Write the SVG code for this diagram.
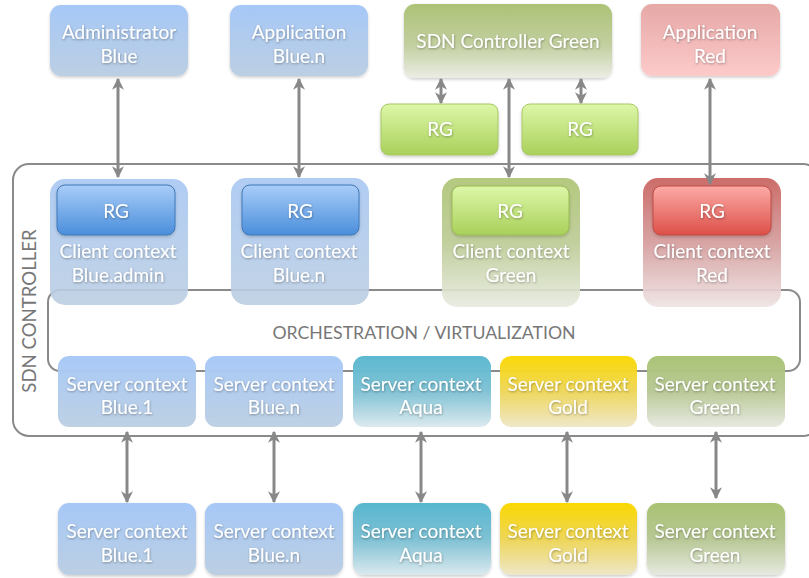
<svg xmlns="http://www.w3.org/2000/svg" width="809" height="578" viewBox="0 0 809 578">
<defs>
<linearGradient id="gBlue" x1="0" y1="0" x2="0" y2="1"><stop offset="0" stop-color="#a6c8f7"/><stop offset="1" stop-color="#bccfe3"/></linearGradient>
<linearGradient id="gBlueOuter" x1="0" y1="0" x2="0" y2="1"><stop offset="0" stop-color="#a7c7f3"/><stop offset="1" stop-color="#bccee2"/></linearGradient>
<linearGradient id="gBlueRG" x1="0" y1="0" x2="0" y2="1"><stop offset="0" stop-color="#a9cdf9"/><stop offset="1" stop-color="#4a8edb"/></linearGradient>
<linearGradient id="gGreenCtl" x1="0" y1="0" x2="0" y2="1"><stop offset="0" stop-color="#adc276"/><stop offset="0.55" stop-color="#c2cf9f"/><stop offset="1" stop-color="#ebede4"/></linearGradient>
<linearGradient id="gGreenRG" x1="0" y1="0" x2="0" y2="1"><stop offset="0" stop-color="#ddf7a8"/><stop offset="1" stop-color="#a9d05a"/></linearGradient>
<linearGradient id="gGreenOuter" x1="0" y1="0" x2="0" y2="1"><stop offset="0" stop-color="#aec474"/><stop offset="0.5" stop-color="#bccb95"/><stop offset="1" stop-color="#e8ebe1"/></linearGradient>
<linearGradient id="gRedApp" x1="0" y1="0" x2="0" y2="1"><stop offset="0" stop-color="#e5a8a6"/><stop offset="1" stop-color="#fdcaca"/></linearGradient>
<linearGradient id="gRedOuter" x1="0" y1="0" x2="0" y2="1"><stop offset="0" stop-color="#c8605c"/><stop offset="0.5" stop-color="#d49c9c"/><stop offset="1" stop-color="#efe3e3"/></linearGradient>
<linearGradient id="gRedRG" x1="0" y1="0" x2="0" y2="1"><stop offset="0" stop-color="#fcaaa6"/><stop offset="1" stop-color="#dd5048"/></linearGradient>
<linearGradient id="gAqua" x1="0" y1="0" x2="0" y2="1"><stop offset="0" stop-color="#57b7cf"/><stop offset="0.5" stop-color="#7ec1d4"/><stop offset="1" stop-color="#dbe9ee"/></linearGradient>
<linearGradient id="gGold" x1="0" y1="0" x2="0" y2="1"><stop offset="0" stop-color="#fad800"/><stop offset="0.5" stop-color="#eed659"/><stop offset="1" stop-color="#eee7c8"/></linearGradient>
<linearGradient id="gGreenSrv" x1="0" y1="0" x2="0" y2="1"><stop offset="0" stop-color="#a8c272"/><stop offset="0.5" stop-color="#b8c895"/><stop offset="1" stop-color="#e6e9e0"/></linearGradient>
<filter id="ts" x="-10%" y="-30%" width="120%" height="160%"><feDropShadow dx="0.5" dy="1" stdDeviation="0.8" flood-color="#000" flood-opacity="0.35"/></filter>
<filter id="bs" x="-10%" y="-10%" width="120%" height="130%"><feDropShadow dx="0" dy="1.5" stdDeviation="1.5" flood-color="#000" flood-opacity="0.2"/></filter>
<marker id="ah" viewBox="0 0 10 10" refX="9" refY="5" markerWidth="4" markerHeight="4" orient="auto-start-reverse"><path d="M0,0 L10,5 L0,10 L3,5 z" fill="#888"/></marker>
<style>
text{font-family:Lato,"Open Sans","Liberation Sans",sans-serif;text-anchor:middle;}
.w{fill:#fff;font-size:19px;filter:url(#ts);}
.g{fill:#777;font-size:17.7px;}
.frame{fill:none;stroke:#8a8a8a;stroke-width:2;}
.con{stroke:#888;stroke-width:3;fill:none;marker-start:url(#ah);marker-end:url(#ah);}
</style>
</defs>
<rect width="809" height="578" fill="#fff"/>

<g id="sdn-controller">
<rect class="frame" x="13" y="164" width="806" height="272" rx="16"/>
<text class="g" style="font-size:18.6px" transform="translate(36,311) rotate(-90)">SDN CONTROLLER</text>
</g>
<g id="orchestration">
<rect class="frame" x="48" y="290" width="752" height="81" rx="12"/>
<text class="g" x="424" y="339">ORCHESTRATION / VIRTUALIZATION</text>
</g>

<g id="admin-blue"><rect x="50" y="5" width="138" height="71" rx="11" fill="url(#gBlue)" filter="url(#bs)"/><text class="w" x="119" y="39">Administrator</text><text class="w" x="119" y="63">Blue</text></g>
<g id="app-blue"><rect x="230" y="5" width="138" height="71" rx="11" fill="url(#gBlue)" filter="url(#bs)"/><text class="w" x="299" y="39">Application</text><text class="w" x="299" y="63">Blue.n</text></g>
<g id="sdn-green"><rect x="404" y="4" width="208" height="74" rx="11" fill="url(#gGreenCtl)" filter="url(#bs)"/><text class="w" x="508" y="48">SDN Controller Green</text></g>
<g id="app-red"><rect x="641" y="4" width="139" height="72" rx="11" fill="url(#gRedApp)" filter="url(#bs)"/><text class="w" x="710" y="39">Application</text><text class="w" x="710" y="63">Red</text></g>
<g id="rg-green-1"><rect x="381" y="104" width="117" height="51" rx="8" fill="url(#gGreenRG)" stroke="#a7c866" stroke-width="1" filter="url(#bs)"/><text class="w" x="440" y="136">RG</text></g>
<g id="rg-green-2"><rect x="522" y="104" width="116" height="51" rx="8" fill="url(#gGreenRG)" stroke="#a7c866" stroke-width="1" filter="url(#bs)"/><text class="w" x="580" y="136">RG</text></g>

<g id="client-blue-admin"><rect x="50" y="179" width="138" height="126" rx="15" fill="url(#gBlueOuter)" opacity="0.9"/><rect x="57" y="185" width="118" height="50" rx="8" fill="url(#gBlueRG)" stroke="#3e78b8" stroke-width="1" filter="url(#bs)"/><text class="w" x="116" y="218">RG</text><text class="w" x="118" y="258">Client context</text><text class="w" x="118" y="282">Blue.admin</text></g>
<g id="client-blue-n"><rect x="231" y="178" width="138" height="127" rx="15" fill="url(#gBlueOuter)" opacity="0.9"/><rect x="242" y="185" width="117" height="50" rx="8" fill="url(#gBlueRG)" stroke="#3e78b8" stroke-width="1" filter="url(#bs)"/><text class="w" x="300" y="218">RG</text><text class="w" x="299" y="258">Client context</text><text class="w" x="299" y="282">Blue.n</text></g>
<g id="client-green"><rect x="442" y="178" width="138" height="129" rx="15" fill="url(#gGreenOuter)" opacity="0.92"/><rect x="452" y="186" width="117" height="49" rx="8" fill="url(#gGreenRG)" stroke="#98bb55" stroke-width="1" filter="url(#bs)"/><text class="w" x="510" y="218">RG</text><text class="w" x="511" y="258">Client context</text><text class="w" x="511" y="282">Green</text></g>
<g id="client-red"><rect x="643" y="178" width="138" height="129" rx="15" fill="url(#gRedOuter)" opacity="0.92"/><rect x="653" y="186" width="118" height="49" rx="8" fill="url(#gRedRG)" stroke="#c04a44" stroke-width="1" filter="url(#bs)"/><text class="w" x="712" y="218">RG</text><text class="w" x="712" y="258">Client context</text><text class="w" x="712" y="282">Red</text></g>

<g id="server-blue-1"><rect x="58" y="356" width="138" height="71" rx="11" fill="url(#gBlue)" opacity="0.97"/><text class="w" x="127" y="391">Server context</text><text class="w" x="127" y="414">Blue.1</text></g>
<g id="server-blue-n"><rect x="205" y="356" width="138" height="71" rx="11" fill="url(#gBlue)" opacity="0.97"/><text class="w" x="274" y="391">Server context</text><text class="w" x="274" y="414">Blue.n</text></g>
<g id="server-aqua"><rect x="353" y="356" width="138" height="71" rx="11" fill="url(#gAqua)" opacity="0.97"/><text class="w" x="421" y="391">Server context</text><text class="w" x="421" y="414">Aqua</text></g>
<g id="server-gold"><rect x="500" y="356" width="137" height="71" rx="11" fill="url(#gGold)" opacity="0.97"/><text class="w" x="568" y="391">Server context</text><text class="w" x="568" y="414">Gold</text></g>
<g id="server-green"><rect x="647" y="356" width="138" height="71" rx="11" fill="url(#gGreenSrv)" opacity="0.97"/><text class="w" x="715" y="391">Server context</text><text class="w" x="715" y="414">Green</text></g>

<g id="ext-blue-1"><rect x="58" y="503" width="138" height="72" rx="11" fill="url(#gBlue)" filter="url(#bs)"/><text class="w" x="127" y="538">Server context</text><text class="w" x="127" y="562">Blue.1</text></g>
<g id="ext-blue-n"><rect x="205" y="503" width="138" height="72" rx="11" fill="url(#gBlue)" filter="url(#bs)"/><text class="w" x="274" y="538">Server context</text><text class="w" x="274" y="562">Blue.n</text></g>
<g id="ext-aqua"><rect x="353" y="503" width="138" height="72" rx="11" fill="url(#gAqua)" filter="url(#bs)"/><text class="w" x="421" y="538">Server context</text><text class="w" x="421" y="562">Aqua</text></g>
<g id="ext-gold"><rect x="500" y="503" width="137" height="72" rx="11" fill="url(#gGold)" filter="url(#bs)"/><text class="w" x="568" y="538">Server context</text><text class="w" x="568" y="562">Gold</text></g>
<g id="ext-green"><rect x="647" y="503" width="138" height="72" rx="11" fill="url(#gGreenSrv)" filter="url(#bs)"/><text class="w" x="715" y="538">Server context</text><text class="w" x="715" y="562">Green</text></g>

<g id="connectors">
<line class="con" x1="118" y1="79" x2="118" y2="177"/>
<line class="con" x1="299" y1="79" x2="299" y2="177"/>
<line class="con" x1="509" y1="79" x2="509" y2="177"/>
<line class="con" x1="710" y1="79" x2="710" y2="184"/>
<line class="con" x1="441" y1="79" x2="441" y2="103"/>
<line class="con" x1="581" y1="79" x2="581" y2="103"/>
<line class="con" x1="127" y1="432" x2="127" y2="502"/>
<line class="con" x1="274" y1="432" x2="274" y2="502"/>
<line class="con" x1="421" y1="432" x2="421" y2="502"/>
<line class="con" x1="567" y1="432" x2="567" y2="502"/>
<line class="con" x1="716" y1="432" x2="716" y2="498"/>
</g>
</svg>
